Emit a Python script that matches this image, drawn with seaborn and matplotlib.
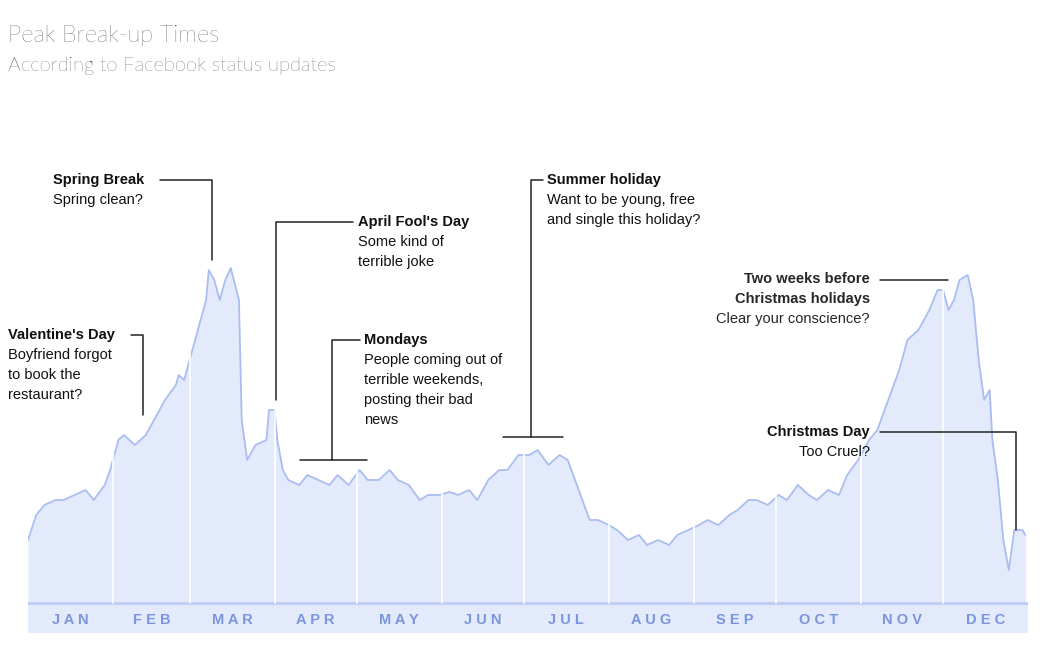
import numpy as np
import pandas as pd
import matplotlib.pyplot as plt
import seaborn as sns

# === data (day of year, relative break-up level) ===
day = [0, 3, 6, 10, 13, 17, 21, 24, 28, 30, 33, 35, 39, 43, 46, 50, 54, 55, 57, 59,
       61, 63, 65, 66, 68, 70, 72, 74, 77, 78, 80, 83, 87, 88, 90, 91, 93, 95, 99, 102,
       106, 110, 113, 117, 121, 124, 128, 132, 135, 139, 143, 146, 150, 154, 157, 161,
       164, 168, 172, 175, 179, 183, 186, 190, 194, 197, 201, 205, 208, 212, 215, 219,
       223, 226, 230, 234, 237, 241, 245, 248, 252, 256, 259, 263, 266, 270, 274, 277,
       281, 285, 288, 292, 296, 299, 303, 307, 310, 314, 318, 321, 325, 329, 332, 334,
       336, 338, 340, 343, 345, 347, 349, 351, 352, 354, 356, 358, 360, 363, 364]
level = [63, 88, 98, 103, 103, 108, 113, 103, 118, 133, 163, 168, 158, 168, 183, 203,
         218, 228, 223, 243, 263, 283, 303, 333, 323, 303, 323, 335, 303, 183, 143, 158,
         163, 193, 193, 163, 133, 123, 118, 128, 123, 118, 128, 118, 133, 123, 123, 133,
         123, 118, 103, 108, 108, 111, 108, 113, 103, 123, 133, 133, 148, 148, 153, 138,
         148, 143, 113, 83, 83, 78, 73, 63, 68, 58, 63, 58, 68, 73, 78, 83,
         78, 88, 93, 103, 103, 98, 108, 103, 118, 108, 103, 113, 108, 128, 143, 163,
         173, 203, 233, 263, 273, 293, 313, 313, 293, 303, 323, 328, 303, 243, 203, 213,
         163, 123, 63, 33, 73, 73, 68]
months = ['JAN', 'FEB', 'MAR', 'APR', 'MAY', 'JUN', 'JUL', 'AUG', 'SEP', 'OCT', 'NOV', 'DEC']
month_start = [0, 31, 59, 90, 120, 151, 181, 212, 243, 273, 304, 334, 365]

df = pd.DataFrame({'day': day, 'level': level})

sns.set_style('white')
plt.rcParams['font.family'] = ['Liberation Sans', 'DejaVu Sans']

W, H = 1052, 652
fig = plt.figure(figsize=(W / 100, H / 100), dpi=100)
top_px = 100
ax = fig.add_axes([28 / W, (H - 633) / H, 1000 / W, (633 - top_px) / H])
ax.set_xlim(0, 365)
ax.set_ylim(-30, 603 - top_px)
ax.axis('off')

def p(x, y):
    return (x - 28) / 1000 * 365, 603 - y

line_col = '#a9bdf0'
ax.fill_between(df['day'], df['level'], 0, color='#e3eafb', lw=0)
sns.lineplot(data=df, x='day', y='level', ax=ax, color=line_col, lw=1.3)
for s in month_start[1:-1]:
    ax.plot([s, s], [0, 400], color='white', lw=1.2, zorder=3)
ax.axhspan(-30, -2, color='#e3eafb', lw=0)
ax.axhline(0, color='#bccbf3', lw=2)
for m, a, b in zip(months, month_start[:-1], month_start[1:]):
    ax.text((a + b) / 2, -17, ' '.join(m), ha='center', va='center',
            color='#7a95dd', fontsize=10.5, fontweight='bold')

def leader(pts):
    xs, ys = zip(*[p(x, y) for x, y in pts])
    ax.plot(xs, ys, color='#222222', lw=1.1, clip_on=False, zorder=5)

def note(x, y, head, body, ha='left'):
    tx, ty = p(x, y)
    ax.text(tx, ty, head, ha=ha, va='center', fontsize=10.5, fontweight='bold', color='#111111')
    for i, b in enumerate(body):
        bx, by = p(x, y + 20 * (i + 1))
        ax.text(bx, by, b, ha=ha, va='center', fontsize=10.5, color='#111111')

note(8, 335, "Valentine's Day", ['Boyfriend forgot', 'to book the', 'restaurant?'])
leader([(131, 335), (143, 335), (143, 415)])
note(53, 180, 'Spring Break', ['Spring clean?'])
leader([(160, 180), (212, 180), (212, 260)])
note(358, 222, "April Fool's Day", ['Some kind of', 'terrible joke'])
leader([(353, 222), (276, 222), (276, 400)])
note(364, 340, 'Mondays', ['People coming out of', 'terrible weekends,', 'posting their bad', 'news'])
leader([(360, 340), (332, 340), (332, 460)])
leader([(300, 460), (367, 460)])
note(547, 180, 'Summer holiday', ['Want to be young, free', 'and single this holiday?'])
leader([(543, 180), (531, 180), (531, 437)])
leader([(503, 437), (563, 437)])
tx, ty = p(870, 279)
ax.text(tx, ty, 'Two weeks before', ha='right', va='center', fontsize=10.5, fontweight='bold')
tx, ty = p(870, 299)
ax.text(tx, ty, 'Christmas holidays', ha='right', va='center', fontsize=10.5, fontweight='bold')
tx, ty = p(870, 319)
ax.text(tx, ty, 'Clear your conscience?', ha='right', va='center', fontsize=10.5)
leader([(880, 280), (948, 280)])
note(870, 432, 'Christmas Day', ['Too Cruel?'], ha='right')
leader([(880, 432), (1016, 432), (1016, 530)])

fig.text(8 / W, 1 - 35 / H, 'Peak Break-up Times', fontsize=17, family=['Lato', 'DejaVu Sans'],
         fontweight='light', va='center', color='#111111')
fig.text(8 / W, 1 - 66 / H, 'According to Facebook status updates', fontsize=14.5,
         family=['Lato', 'DejaVu Sans'], fontweight='light', va='center', color='#111111')

fig.savefig('out.png', dpi=100)
